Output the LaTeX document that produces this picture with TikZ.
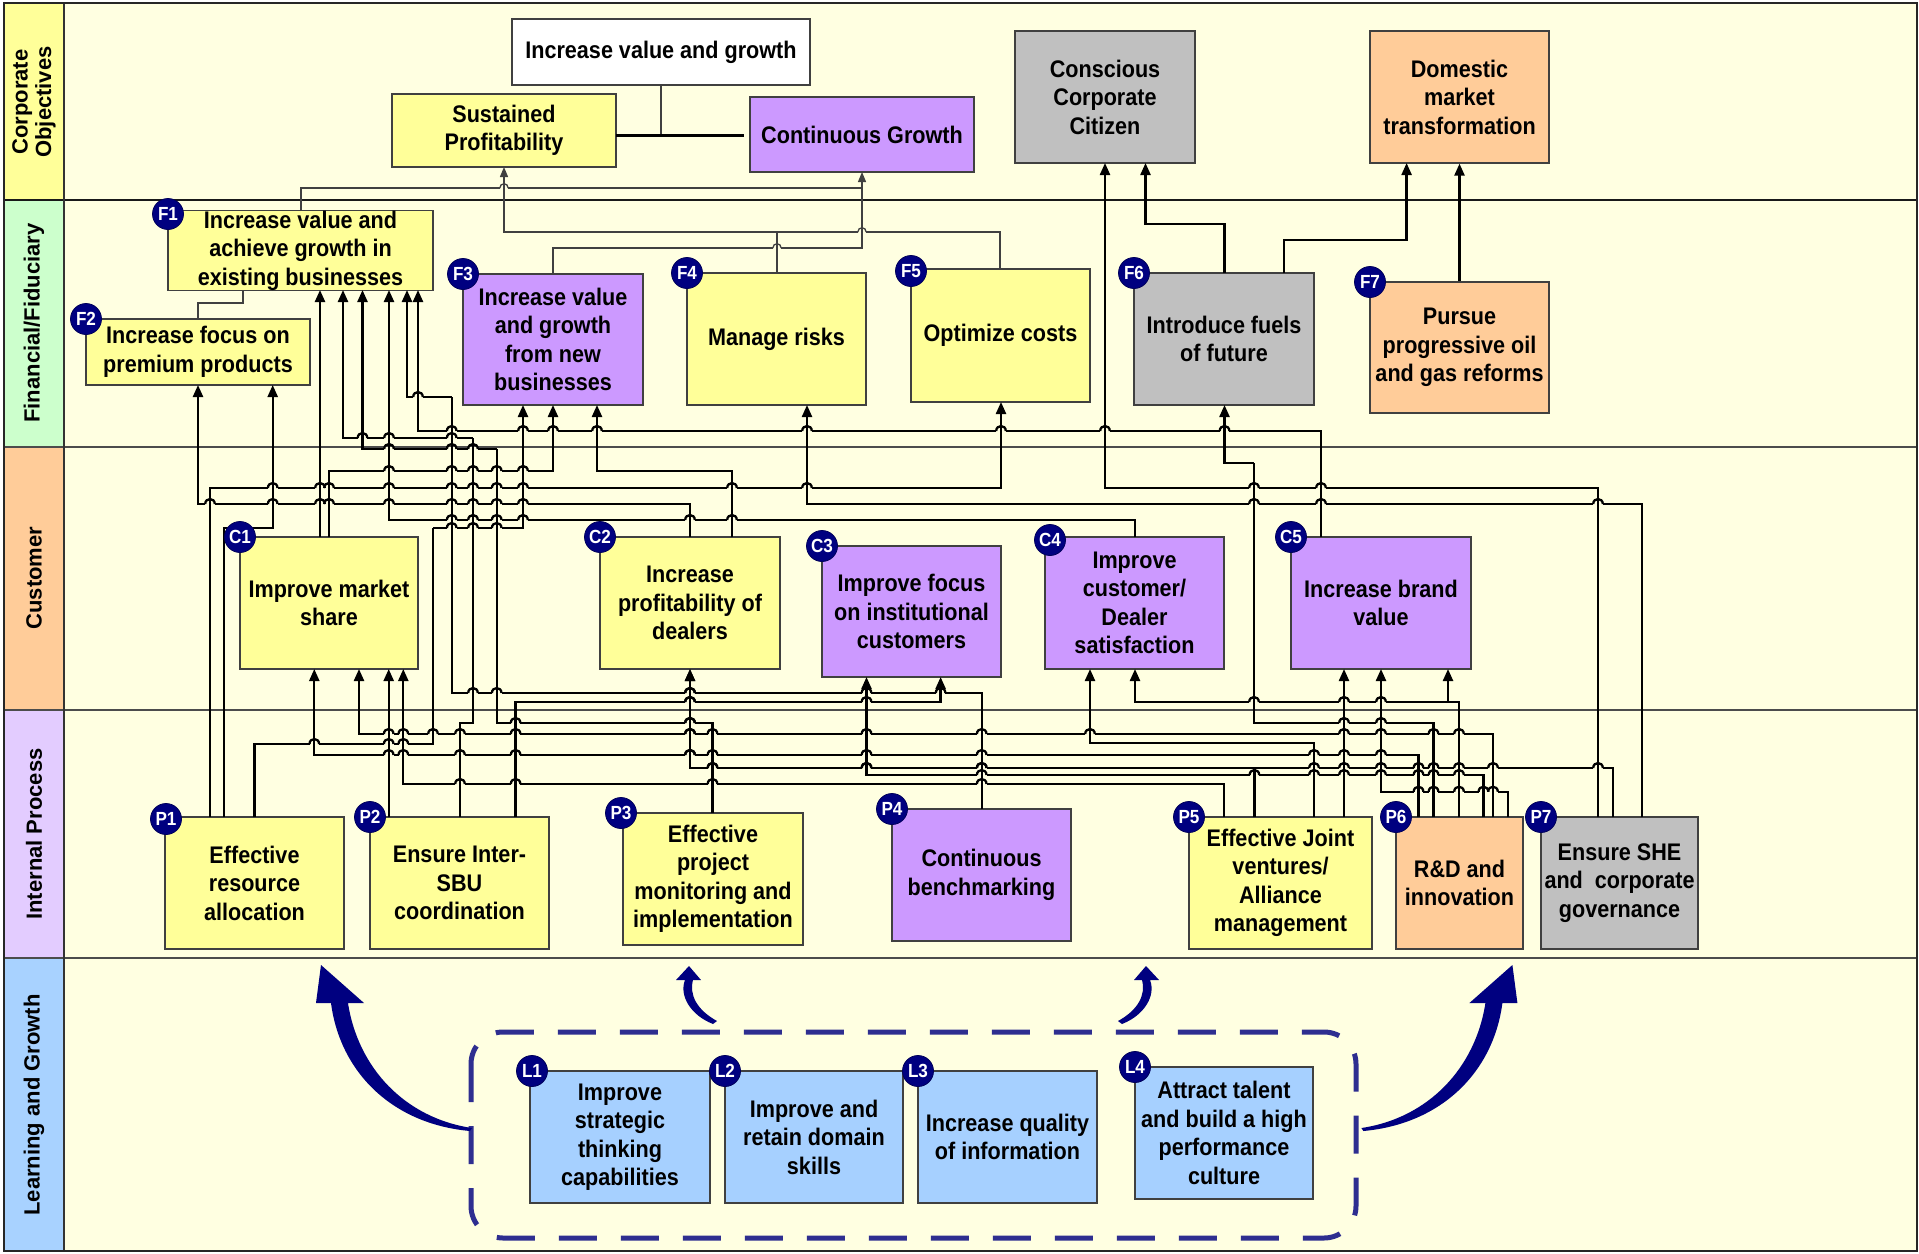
\documentclass[tikz,border=0pt]{standalone}
\usepackage{fontspec}
\newfontfamily\boxfont{Liberation Sans}[FakeStretch=0.9]
\newfontfamily\lanefont{Liberation Sans}
\usetikzlibrary{arrows.meta}
\definecolor{lanebg}{HTML}{FFFFE1}
\definecolor{yel}{HTML}{FFFF99}
\definecolor{pur}{HTML}{CC99FF}
\definecolor{gry}{HTML}{C0C0C0}
\definecolor{org}{HTML}{FFCC99}
\definecolor{blu}{HTML}{A6D0FF}
\definecolor{fincol}{HTML}{CCFFCC}
\definecolor{ipcol}{HTML}{E3CCFF}
\definecolor{lgcol}{HTML}{A8D2FF}
\definecolor{navy}{HTML}{000080}
\definecolor{dashnavy}{HTML}{2E2E90}
\pgfdeclarelayer{hopbg}
\pgfdeclarelayer{hopfg}
\pgfsetlayers{main,hopbg,hopfg}

% boxes: name, x1, y1, x2, y2, fill, text
\newcommand\bx[7]{\node[box, fill=#6, minimum width={#4-#2}, minimum height={#5-#3}] (#1) at ({(#2+#4)/2},{(#3+#5)/2}) {#7};}
% numbered badge on a box corner
\newcommand\bd[4]{\node[badge] (#1) at (#2,#3) {#4};}
% bridge of a horizontal line over a vertical one
\newcommand\hop[2]{%
  \begin{pgfonlayer}{hopbg}\fill[lanebg] ({#1-4.8},{#2-1.8}) rectangle ({#1+4.8},{#2+1.8});\end{pgfonlayer}%
  \begin{pgfonlayer}{hopfg}\draw[net] (#1,{#2-2.8}) -- (#1,{#2+2.8});
  \draw[net] ({#1-4.8},#2) .. controls ({#1-4.8},{#2-6.6}) and ({#1+4.8},{#2-6.6}) .. ({#1+4.8},#2);\end{pgfonlayer}}
\newcommand\thinhop[2]{%
  \fill[lanebg] ({#1-4.2},{#2-1.2}) rectangle ({#1+4.2},{#2+1.2});
  \draw[thinln] (#1,{#2-2}) -- (#1,{#2+2});
  \draw[thinln] ({#1-4.2},#2) .. controls ({#1-4.2},{#2-5.6}) and ({#1+4.2},{#2-5.6}) .. ({#1+4.2},#2);}
% test one horizontal run against one vertical run
\newcommand\hopcheck[6]{%
  \pgfmathtruncatemacro\hit{((min(#1,#2)+5<#4) && (#4<max(#1,#2)-5) && (min(#5,#6)+3<#3) && (#3<max(#5,#6)-3)) ? 1 : 0}%
  \ifnum\hit=1 \hop{#4}{#3}\fi}

% cause-and-effect links: source x / source y / bus y / target x / target y / arrow
\def\netlist{%
320/537/537/320/290/1,
460/817/723/473/438/0,
473/438/438/343/290/1,
712.5/813/723/496.7/449/0,
496.7/449/449/362.5/290/1,
1135/537/520/389/290/1,
981.7/809/693/451.7/397/0,
451.7/397/397/407/290/1,
1321/537/431/418/290/1,
690/537/504/198/385/1,
224/817/528/272.7/385/1,
329/537/471/553/405/1,
732/537/471/597/405/1,
254.5/817/744/433/528/0,
433/528/528/523/405/1,
1642/817/504/807/405/1,
210/817/488/1001/402/1,
1433.5/817/723/1254/463/0,
1254/463/463/1224.5/405/1,
1598/817/488/1105/163/1,
388.7/817/817/388.7/669/1,
1224/817/784/403.3/669/1,
1418.5/817/755/314.3/669/1,
1493/817/734/359/669/1,
1314/817/743/1090/669/1,
515.6/817/702/940.6/677/1,
1459/817/702/1135/669/1,
1448/702/702/1448/669/1,
1483.4/817/775/866.5/677/1,
1508/817/791.7/1381/669/1,
1344/817/817/1344/669/1,
1612.7/817/768/690/669/1,
1254.4/817/768/690/669/1}

\begin{document}
\begin{tikzpicture}[x=1pt,y=-1pt,
  box/.style={draw=black!75, line width=1.2pt, inner sep=0pt, align=center,
    font=\boxfont\bfseries\fontsize{24}{28.5}\selectfont, text=black},
  badge/.style={circle, fill=navy, draw=navy!70!black, line width=0.8pt, minimum size=31pt,
    inner sep=0pt, text=white, font=\boxfont\bfseries\fontsize{19}{19}\selectfont},
  lanelbl/.style={rotate=90, align=center, inner sep=0pt,
    font=\lanefont\bfseries\fontsize{22}{23.5}\selectfont},
  net/.style={line width=2.3pt, black},
  thinln/.style={line width=1.3pt, black!75},
  tip/.style={-{Triangle[length=12pt,width=10pt]}},
  smalltip/.style={-{Triangle[length=10pt,width=8pt]}}]

\useasboundingbox (0,0) rectangle (1919,1253);

% ---- lanes ----
\fill[lanebg] (64,3) rectangle (1917,1251);
\fill[yel] (4,3) rectangle (64,200);
\fill[fincol] (4,200) rectangle (64,447);
\fill[org] (4,447) rectangle (64,710);
\fill[ipcol] (4,710) rectangle (64,958);
\fill[lgcol] (4,958) rectangle (64,1251);
\draw[line width=1.5pt, black!70] (4,447) -- (1917,447);
\draw[line width=1.5pt, black!70] (4,710) -- (1917,710);
\draw[line width=1.8pt, black!70] (4,958) -- (1917,958);
\draw[line width=2.2pt, black!90] (4,200) -- (1917,200);
\draw[line width=1.6pt, black!80] (64,3) -- (64,1251);
\draw[line width=2.2pt, black!85] (4,3) rectangle (1917,1251);

\node[lanelbl] (labCO) at (34,102) {Corporate\\Objectives};
\node[lanelbl] (labFF) at (34,323) {Financial/Fiduciary};
\node[lanelbl] (labCU) at (34,578) {Customer};
\node[lanelbl] (labIP) at (34,834) {Internal Process};
\node[lanelbl] (labLG) at (34,1105) {Learning and Growth};

% ---- corporate objectives ----
\bx{IVG}{512}{19}{810}{85}{white}{Increase value and growth}
\bx{SP}{392}{94}{616}{167}{yel}{Sustained\\Profitability}
\bx{CG}{750}{97}{974}{172}{pur}{Continuous Growth}
\bx{CCC}{1015}{31}{1195}{163}{gry}{Conscious\\Corporate\\Citizen}
\bx{DMT}{1370}{31}{1549}{163}{org}{Domestic\\market\\transformation}

% ---- financial ----
\bx{F1}{168}{211}{433}{290}{yel}{Increase value and\\achieve growth in\\existing businesses}
\bx{F2}{86}{319}{310}{385}{yel}{Increase focus on\\premium products}
\bx{F3}{463}{274}{643}{405}{pur}{Increase value\\and growth\\from new\\businesses}
\bx{F4}{687}{273}{866}{405}{yel}{Manage risks}
\bx{F5}{911}{269}{1090}{402}{yel}{Optimize costs}
\bx{F6}{1134}{273}{1314}{405}{gry}{Introduce fuels\\of future}
\bx{F7}{1370}{282}{1549}{413}{org}{Pursue\\progressive oil\\and gas reforms}

% ---- customer ----
\bx{C1}{240}{537}{418}{669}{yel}{Improve market\\share}
\bx{C2}{600}{537}{780}{669}{yel}{Increase\\profitability of\\dealers}
\bx{C3}{822}{546}{1001}{677}{pur}{Improve focus\\on institutional\\customers}
\bx{C4}{1045}{537}{1224}{669}{pur}{Improve\\customer/\\Dealer\\satisfaction}
\bx{C5}{1291}{537}{1471}{669}{pur}{Increase brand\\value}

% ---- internal process ----
\bx{P1}{165}{817}{344}{949}{yel}{Effective\\resource\\allocation}
\bx{P2}{370}{817}{549}{949}{yel}{Ensure Inter-\\SBU\\coordination}
\bx{P3}{623}{813}{803}{945}{yel}{Effective\\project\\monitoring and\\implementation}
\bx{P4}{892}{809}{1071}{941}{pur}{Continuous\\benchmarking}
\bx{P5}{1189}{817}{1372}{949}{yel}{Effective Joint\\ventures/\\Alliance\\management}
\bx{P6}{1396}{817}{1523}{949}{org}{R\&D and\\innovation}
\bx{P7}{1541}{817}{1698}{949}{gry}{Ensure SHE\\and\enspace corporate\\governance}

% ---- learning and growth ----
\draw[dashnavy, line width=5pt, dash pattern=on 38pt off 24pt, rounded corners=32pt]
  (471,1032) rectangle (1356,1238);
\bx{L1}{530}{1071}{710}{1203}{blu}{Improve\\strategic\\thinking\\capabilities}
\bx{L2}{725}{1071}{903}{1203}{blu}{Improve and\\retain domain\\skills}
\bx{L3}{918}{1071}{1097}{1203}{blu}{Increase quality\\of information}
\bx{L4}{1135}{1067}{1313}{1199}{blu}{Attract talent\\and build a high\\performance\\culture}

% ---- tapered arrows from learning and growth ----
\fill[navy] (470,1131) .. controls (392,1124) and (340,1072) .. (331,1003) -- (316,1003) -- (321,965)
  -- (364,1003) -- (348,1003) .. controls (358,1068) and (405,1118) .. (472,1128) -- cycle;
\fill[navy] (1363.4,1131) .. controls (1441.4,1124) and (1493.4,1072) .. (1502.4,1003) -- (1517.4,1003) -- (1512.4,965)
  -- (1469.4,1003) -- (1485.4,1003) .. controls (1475.4,1068) and (1428.4,1118) .. (1361.4,1128) -- cycle;
\fill[navy] (713,1024) .. controls (690,1015) and (679,995) .. (685,980) -- (676,980) -- (689,966)
  -- (701,980) -- (693,980) .. controls (689,995) and (697,1010) .. (717,1021) -- cycle;
\fill[navy] (1122,1024) .. controls (1145,1015) and (1156,995) .. (1150,980) -- (1159,980) -- (1146,966)
  -- (1134,980) -- (1142,980) .. controls (1146,995) and (1138,1010) .. (1118,1021) -- cycle;

% ---- links inside the corporate lane ----
\draw[thinln] (661,85) -- (661,135);
\draw[line width=3pt, black] (616,135) -- (744,135);
\draw[thinln, smalltip] (301,211) -- (301,188) -- (862,188) -- (862,172);
\draw[thinln] (553,274) -- (553,248) -- (862,248) -- (862,188);
\draw[thinln] (777,273) -- (777,232);
\draw[thinln, smalltip] (1000,269) -- (1000,232) -- (504,232) -- (504,167);
\draw[thinln] (198,319) -- (198,303) -- (243,303) -- (243,290);
\thinhop{504}{188}
\thinhop{777}{248}
\thinhop{862}{232}
\draw[net, tip] (1224.5,273) -- (1224.5,224) -- (1145.5,224) -- (1145.5,163);
\draw[net, tip] (1284,273) -- (1284,240) -- (1406.6,240) -- (1406.6,163);
\draw[net, tip] (F7.north) -- (DMT.south);

% ---- cause-and-effect network ----
\foreach \xs/\ys/\yh/\xt/\yt/\ar in \netlist {
  \ifnum\ar=1
    \draw[net, tip] (\xs,\ys) -- (\xs,\yh) -- (\xt,\yh) -- (\xt,\yt);
  \else
    \draw[net] (\xs,\ys) -- (\xs,\yh) -- (\xt,\yh) -- (\xt,\yt);
  \fi
}
\foreach \xs/\ys/\yh/\xt/\yt/\ar in \netlist {
  \foreach \xa/\ya/\yb/\xb/\yc/\arb in \netlist {
    \hopcheck{\xs}{\xt}{\yh}{\xa}{\ya}{\yb}
    \hopcheck{\xs}{\xt}{\yh}{\xb}{\yb}{\yc}
  }
}

% ---- badges ----
\bd{bF1}{168}{214}{F1}
\bd{bF2}{86}{319}{F2}
\bd{bF3}{463}{274}{F3}
\bd{bF4}{687}{273}{F4}
\bd{bF5}{911}{271}{F5}
\bd{bF6}{1134}{273}{F6}
\bd{bF7}{1370}{282}{F7}
\bd{bC1}{240}{537}{C1}
\bd{bC2}{600}{537}{C2}
\bd{bC3}{822}{546}{C3}
\bd{bC4}{1050}{540}{C4}
\bd{bC5}{1291}{537}{C5}
\bd{bP1}{166}{819}{P1}
\bd{bP2}{370}{817}{P2}
\bd{bP3}{621}{813}{P3}
\bd{bP4}{892}{809}{P4}
\bd{bP5}{1189}{817}{P5}
\bd{bP6}{1396}{817}{P6}
\bd{bP7}{1541}{817}{P7}
\bd{bL1}{532}{1071}{L1}
\bd{bL2}{725}{1071}{L2}
\bd{bL3}{918}{1071}{L3}
\bd{bL4}{1135}{1067}{L4}
\end{tikzpicture}
\end{document}
